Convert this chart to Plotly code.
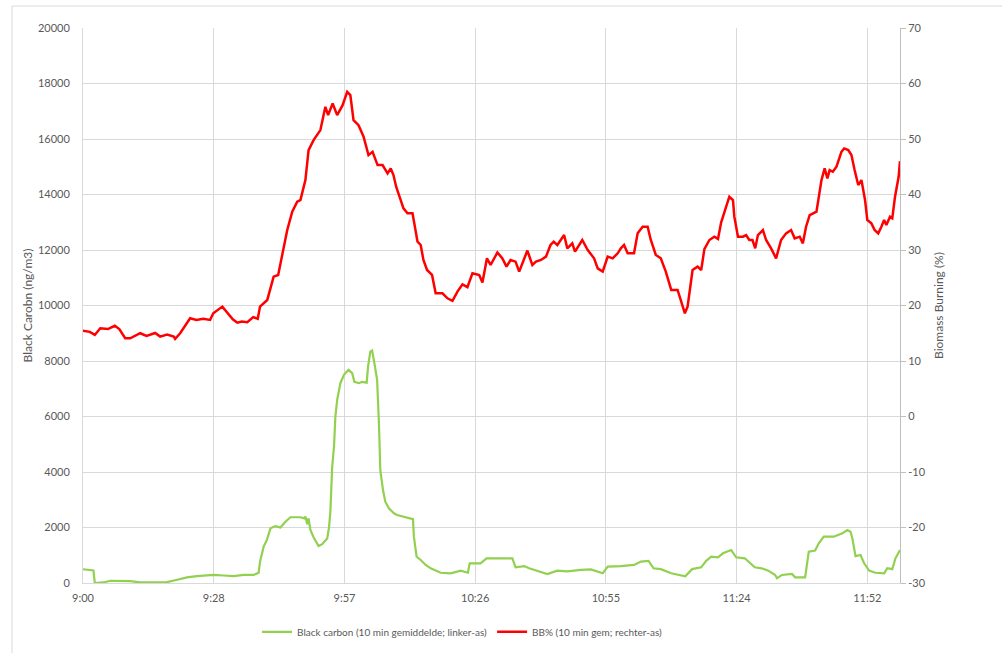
import plotly.graph_objects as go

# Minutes after 9:00 and values
bc_minutes = [0, 2.3, 2.6, 4.5, 6, 8, 10.4, 12.6, 15, 18.5, 20.3, 22.9, 25.1, 28.8, 31, 33.2, 35.4, 37.6,
              38.7, 39, 39.8, 40.5, 41.3, 42.4, 43.5, 44.6, 45.7, 47.9, 48.8, 49, 49.4, 49.7, 50.1, 50.8,
              51.9, 52.7, 53.8, 54.2, 54.5, 54.9, 55.3, 55.6, 56, 56.7, 57.5, 58.5, 59.3, 59.8, 60.8, 61.5,
              62.5, 62.8, 63.3, 63.7, 64.2, 64.8, 65.2, 65.5, 66.1, 66.6, 67.4, 68.5, 69.2, 70.7, 72.2, 72.7,
              72.9, 73.5, 74.4, 75.5, 76.6, 78, 78.8, 81, 83.2, 84.8, 85.2, 87.6, 88.9, 91.3, 94.6, 95.3,
              97.2, 98.3, 100.1, 102.3, 104.5, 106.7, 109.7, 111.9, 114.5, 115.6, 118.5, 121.4, 122.9, 124.6,
              125.7, 127.3, 129.6, 130.8, 132.7, 134.2, 136.2, 137.3, 138.4, 139.9, 141, 142.8, 143.9, 145.8,
              148, 149.5, 151, 152.5, 152.9, 154, 156.2, 156.9, 159.1, 159.9, 161.3, 162.1, 163.2, 165.4,
              167.3, 168.4, 169.1, 169.5, 170.2, 171.3, 172.1, 173.2, 174.6, 176.5, 177.2, 178.3, 179, 180]
bc_values = [495, 450, 0, 20, 80, 80, 70, 20, 20, 30, 100, 205, 250, 290, 270, 250, 290, 290,
             370, 770, 1310, 1550, 1970, 2050, 2000, 2210, 2370, 2370, 2330, 2400, 2120, 2330, 1910, 1650,
             1330, 1400, 1600, 2000, 2570, 4190, 4910, 5990, 6600, 7200, 7500, 7680, 7560, 7250, 7200, 7250,
             7220, 7800, 8340, 8380, 7920, 7320, 5750, 4070, 3350, 2930, 2690, 2510, 2450, 2390, 2330, 2300,
             1670, 950, 830, 650, 530, 410, 370, 350, 445, 370, 710, 710, 890, 890, 890, 565,
             610, 530, 445, 325, 445, 420, 470, 490, 350, 590, 610, 650, 770, 800,
             530, 500, 350, 300, 240, 500, 565, 800, 950, 925, 1070, 1190, 925, 890,
             565, 530, 445, 290, 170, 290, 325, 205, 205, 1130, 1170, 1430, 1670, 1670,
             1790, 1910, 1850, 1610, 970, 1010, 710, 445, 370, 350, 530, 500, 890, 1190]

bb_minutes = [0, 1.5, 2.6, 3.8, 5.5, 7, 8, 9.3, 10.4, 11.5, 12.6, 14, 15.9, 17, 18.5, 20, 20.3, 21.4, 22.5,
              23.6, 25, 26.5, 28, 28.7, 30.7, 31.8, 33, 34, 35, 36.2, 37.5, 38.5, 39, 40.6, 42, 43, 44.2,
              45, 46.1, 47.2, 47.9, 49, 49.7, 50.8, 52.3, 53.4, 54, 55, 56, 57.2, 58.2, 58.9, 59.6, 60.7,
              61.8, 62.9, 63.8, 64.9, 66, 67.1, 67.8, 68.4, 69, 69.5, 70.6, 71.5, 72.6, 73.7, 74.4, 75,
              75.8, 76.9, 77.7, 79.2, 80.3, 81.4, 82.5, 83.6, 84.7, 85.8, 87.3, 88, 89, 89.8, 91.3, 92.4,
              93.3, 94.2, 95.3, 96.1, 97.9, 99, 99.8, 100.9, 102, 103, 103.7, 104.5, 106, 106.7, 107.8,
              108.4, 110, 111.2, 112.6, 113.4, 114.5, 115.6, 116.7, 117.8, 118.5, 119.2, 120, 121.4, 122.2,
              123.3, 124.4, 125.1, 126.2, 127.3, 128.4, 129.6, 131, 131.8, 132.6, 133.2, 134.3, 135.4,
              136.2, 136.9, 138, 139.1, 139.9, 140.6, 141.7, 142.4, 143.2, 143.5, 144.3, 145.4, 146.1,
              146.8, 147.5, 148.1, 148.7, 149.8, 150.5, 151.6, 152.7, 153.8, 154.9, 156, 156.8, 157.9,
              158.6, 159.3, 160.1, 161.6, 162.7, 163.4, 164, 164.5, 165.2, 166, 167.1, 167.7, 168.6,
              169.3, 170, 170.8, 171.5, 172.3, 172.8, 173.7, 174.4, 175.2, 175.9, 176.5, 177, 177.8,
              178.3, 178.9, 179.7, 180]
bb_values = [15.45, 15.25, 14.7, 15.9, 15.75, 16.35, 15.75, 14.1, 14.1, 14.5, 15.0, 14.5, 15.05, 14.4,
             14.75, 14.4, 14.0, 15.0, 16.25, 17.7, 17.4, 17.6, 17.4, 18.6, 19.8, 18.6, 17.5, 16.9, 17.1,
             17.0, 17.9, 17.6, 19.8, 21.0, 25.2, 25.5, 30.6, 33.6, 36.9, 38.7, 39.0, 42.6, 48.0, 49.8,
             51.6, 55.8, 54.3, 56.4, 54.3, 56.1, 58.5, 57.9, 53.4, 52.5, 50.45, 47.1, 47.7, 45.3, 45.3,
             43.8, 44.7, 43.5, 41.4, 40.2, 37.5, 36.6, 36.6, 31.5, 30.9, 28.2, 26.4, 25.5, 22.2, 22.2,
             21.3, 20.85, 22.5, 23.8, 23.3, 25.8, 25.5, 24.15, 28.5, 27.3, 29.55, 28.5, 27.0, 28.2, 27.9,
             26.1, 29.9, 27.3, 27.9, 28.2, 28.8, 30.9, 31.5, 30.9, 32.7, 30.3, 31.2, 29.7, 31.8, 30.0,
             28.5, 26.7, 26.1, 28.8, 28.5, 29.4, 30.3, 30.9, 29.4, 29.4, 33.0, 34.2, 34.2, 31.8, 29.1,
             28.5, 26.1, 22.8, 22.8, 20.7, 18.6, 19.8, 26.4, 27.0, 26.4, 30.15, 31.8, 32.4, 32.0, 35.0,
             37.8, 39.6, 39.0, 36.0, 32.4, 32.4, 32.7, 31.8, 31.8, 30.3, 32.7, 33.6, 31.8, 30.3, 28.5,
             31.8, 33.0, 33.6, 32.1, 32.4, 31.2, 34.2, 36.3, 36.9, 42.6, 44.7, 42.9, 44.4, 44.1, 45.0,
             47.7, 48.3, 48.0, 47.1, 44.4, 41.7, 42.6, 39.0, 35.4, 34.8, 33.6, 33.0, 34.2, 35.4, 34.5,
             36.0, 35.7, 39.6, 43.2, 46.0]

x_tickvals = [0, 28.8, 57.6, 86.4, 115.2, 144, 172.8]
x_ticktext = ["9:00", "9:28", "9:57", "10:26", "10:55", "11:24", "11:52"]
y2_tickvals = [-30, -20, -10, 0, 10, 20, 30, 40, 50, 60, 70]
y2_ticktext = ["-30", "-20", "-10", "0", "10", "20", "30", "40", "50", "60", "70"]

bc_name = "Black carbon (10 min gemiddelde; linker-as)"
bb_name = "BB% (10 min gem; rechter-as)"

FONT = "Lato"
GRAY = "#595959"
GRID = "#d9d9d9"

fig = go.Figure()
fig.add_trace(go.Scatter(x=bc_minutes, y=bc_values, name=bc_name, mode="lines",
                         line=dict(color="#92d050", width=2.2), yaxis="y"))
fig.add_trace(go.Scatter(x=bb_minutes, y=bb_values, name=bb_name, mode="lines",
                         line=dict(color="#ff0000", width=2.5), yaxis="y2"))

fig.update_layout(
    width=1002, height=653,
    margin=dict(l=83, r=102, t=28, b=70, autoexpand=False),
    paper_bgcolor="white", plot_bgcolor="white",
    font=dict(family=FONT, size=11, color=GRAY),
    showlegend=True,
    legend=dict(orientation="h", x=0.213, xanchor="left", y=-0.088, yanchor="middle",
                font=dict(family=FONT, size=10, color=GRAY), tracegroupgap=0),
    xaxis=dict(range=[0, 180], tickvals=x_tickvals, ticktext=x_ticktext, showgrid=True,
               gridcolor=GRID, gridwidth=1, showline=True, linecolor=GRID, linewidth=1,
               ticks="", zeroline=False, ticklabelstandoff=5, automargin=False,
               tickfont=dict(size=11, color=GRAY)),
    yaxis=dict(range=[0, 20000], dtick=2000, tickformat="d", showgrid=True, gridcolor=GRID, gridwidth=1,
               showline=True, linecolor=GRID, zeroline=False, ticks="", ticklabelstandoff=10,
               automargin=False,
               title=dict(text="Black Carobn (ng/m3)", font=dict(size=12, color=GRAY), standoff=2),
               tickfont=dict(size=11, color=GRAY)),
    yaxis2=dict(range=[-30, 70], tickvals=y2_tickvals, ticktext=y2_ticktext, overlaying="y", side="right",
                showgrid=False, showline=True, linecolor="#bfbfbf", linewidth=1, ticks="outside", ticklen=5,
                tickcolor="#bfbfbf", zeroline=False, automargin=False,
                title=dict(text="Biomass Burning (%)", font=dict(size=12, color=GRAY), standoff=9),
                tickfont=dict(size=11, color=GRAY)),
    shapes=[dict(type="rect", xref="paper", yref="paper", x0=-0.0869, x1=1.2, y0=-0.2, y1=1.0396,
                 line=dict(color="#d9d9d9", width=1), fillcolor="rgba(0,0,0,0)", layer="below")],
)

fig.write_html("out.html", config={"displayModeBar": False},
               post_script="document.body.style.margin='0';document.body.style.padding='0';")
